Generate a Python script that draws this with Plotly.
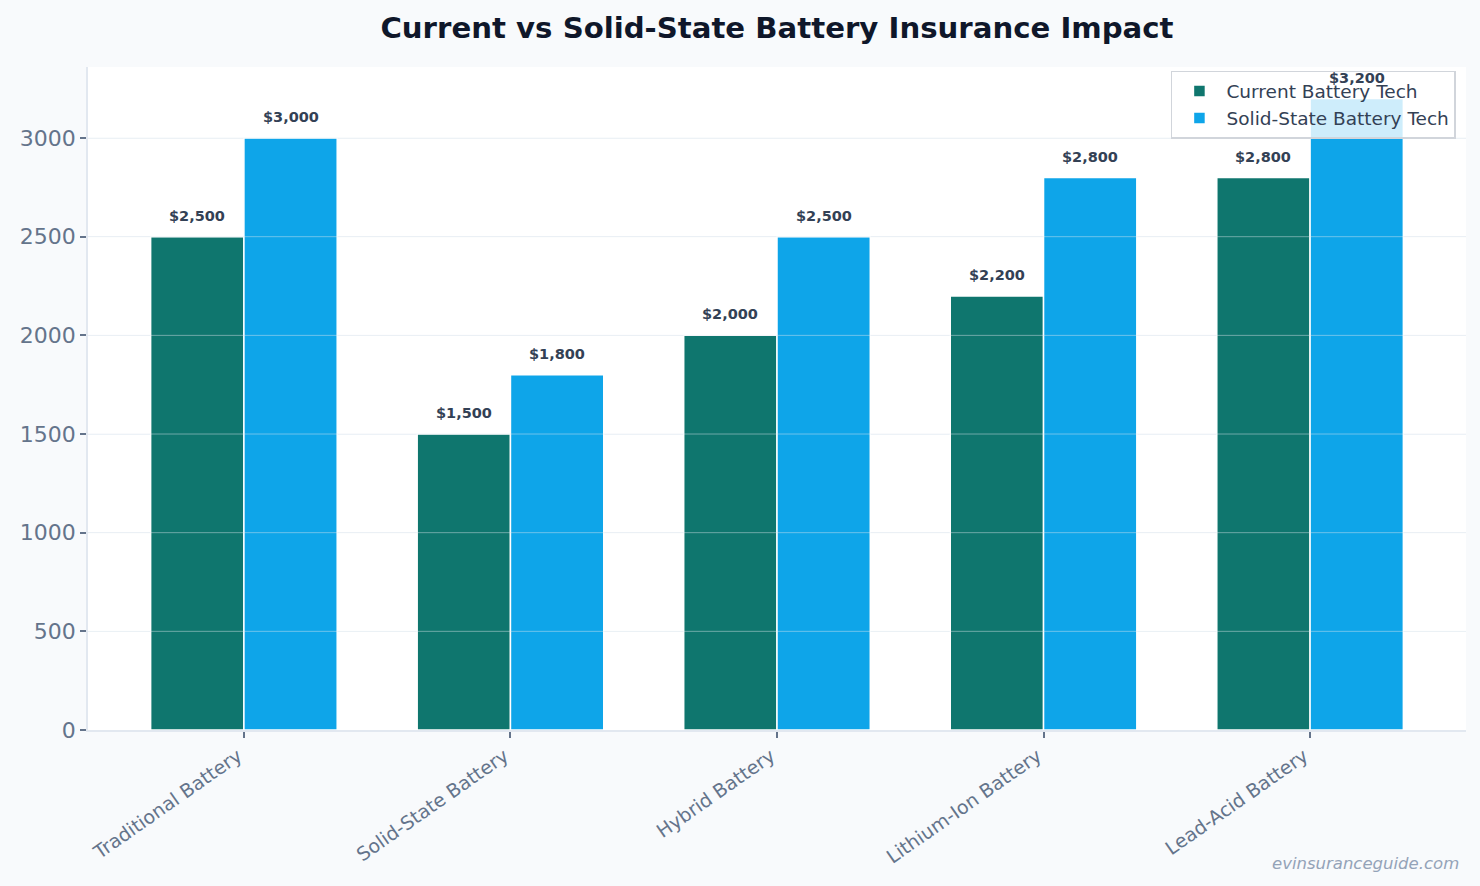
import plotly.graph_objects as go

categories = ["Traditional Battery", "Solid-State Battery", "Hybrid Battery",
              "Lithium-Ion Battery", "Lead-Acid Battery"]
current_tech = [2500, 1500, 2000, 2200, 2800]
solid_state_tech = [3000, 1800, 2500, 2800, 3200]
series_names = ["Current Battery Tech", "Solid-State Battery Tech"]
y_ticks = [0, 500, 1000, 1500, 2000, 2500, 3000]

colors = ["#0f766e", "#0ea5e9"]
bar_w = 0.35
idx = list(range(len(categories)))
x_cur = [i - bar_w / 2 for i in idx]
x_ss = [i + bar_w / 2 for i in idx]

fig = go.Figure()
for xs, vals, name, col in [(x_cur, current_tech, series_names[0], colors[0]),
                            (x_ss, solid_state_tech, series_names[1], colors[1])]:
    fig.add_trace(go.Bar(x=xs, y=vals, width=bar_w, name=name,
                         marker=dict(color=col, line=dict(color="white", width=1.5)),
                         hoverinfo="skip"))

annotations = []
for xs, vals in [(x_cur, current_tech), (x_ss, solid_state_tech)]:
    for x, v in zip(xs, vals):
        annotations.append(dict(x=x, y=v, xref="x", yref="y", text=f"${v:,}",
                                showarrow=False, yshift=21,
                                font=dict(family="DejaVu Sans", size=14.5, color="#334155",
                                          weight="bold")))
annotations.append(dict(x=1, y=0, xref="paper", yref="paper", xanchor="right", yanchor="bottom",
                        text="<i>evinsuranceguide.com</i>", showarrow=False,
                        xshift=-5, yshift=-145,
                        font=dict(family="DejaVu Sans", size=16.5, color="#94a3b8")))

shapes = [dict(type="line", xref="paper", x0=0, x1=1, yref="y", y0=t, y1=t, layer="above",
               line=dict(color="rgba(226,232,240,0.45)", width=1)) for t in y_ticks[1:]]

fig.update_layout(
    width=1480, height=886,
    paper_bgcolor="#f8fafc", plot_bgcolor="white",
    margin=dict(l=88, r=14, t=67, b=156),
    title=dict(text="<b>Current vs Solid-State Battery Insurance Impact</b>",
               x=0.525, xanchor="center", y=0.969, yanchor="middle",
               font=dict(family="DejaVu Sans", size=29.2, color="#0f172a")),
    font=dict(family="DejaVu Sans", color="#64748b"),
    barmode="overlay",
    showlegend=True,
    legend=dict(x=0.9927, y=0.994, xanchor="right", yanchor="top",
                bgcolor="rgba(255,255,255,0.8)", bordercolor="#d1d5db", borderwidth=1.5,
                font=dict(family="DejaVu Sans", size=18.5, color="#334155"),
                itemwidth=44, tracegroupgap=0),
    annotations=annotations,
    shapes=shapes,
)
fig.update_xaxes(range=[-0.585, len(categories) - 1 + 0.585], tickmode="array",
                 tickvals=idx, ticktext=categories, tickangle=-35,
                 tickfont=dict(family="DejaVu Sans", size=19, color="#64748b"),
                 ticklabelshift=-6,
                 ticks="outside", ticklen=6, tickcolor="#64748b", tickwidth=1.5,
                 showline=True, linecolor="#e2e8f0", linewidth=1.5,
                 showgrid=False, zeroline=False)
fig.update_yaxes(range=[0, 3360], tickmode="array", tickvals=y_ticks,
                 tickfont=dict(family="DejaVu Sans", size=22, color="#64748b"),
                 ticks="outside", ticklen=6, tickcolor="#64748b", tickwidth=1.5,
                 showline=True, linecolor="#e2e8f0", linewidth=1.5,
                 showgrid=True, gridcolor="#f1f5f9", gridwidth=1, zeroline=False)

fig.write_html("out.html")
